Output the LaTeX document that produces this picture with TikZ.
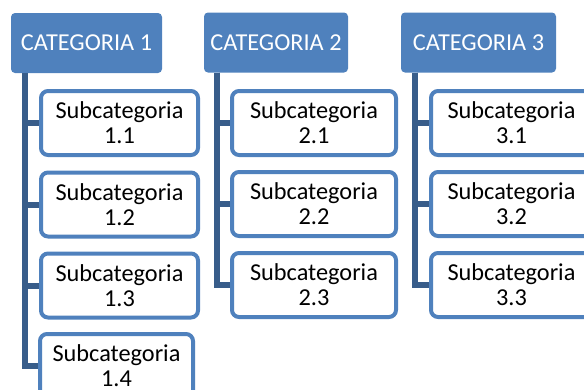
\documentclass[tikz,border=0pt]{standalone}
\usepackage{fontspec}
\setmainfont{Carlito}
\usepackage{tikz}
\usetikzlibrary{positioning,calc}
\definecolor{catblue}{RGB}{79,129,189}
\definecolor{linkblue}{RGB}{56,93,138}

\begin{document}
\begin{tikzpicture}[x=1pt,y=-1pt,
    catbox/.style={fill=catblue,text=white,rounded corners=4pt,minimum width=151pt,minimum height=60pt,inner sep=0pt,font=\fontsize{24.3}{25}\selectfont},
    subbox/.style={draw=catblue,fill=white,line width=4pt,rounded corners=7pt,minimum height=64pt,inner sep=0pt,align=center,font=\fontsize{24.3}{25}\selectfont},
    link/.style={draw=linkblue,line width=6pt}]
      \clip (0,0) rectangle (584,389);
      \node[catbox] (cat1) at (86.5, 43) {CATEGORIA 1};
      \node[catbox,minimum width=144pt] (cat2) at (276, 42.5) {CATEGORIA 2};
      \node[catbox,minimum width=155pt] (cat3) at (478.5, 42.5) {CATEGORIA 3};
      \draw[link] ([xshift=14pt]cat1.south west) |- (119.5, 123) coordinate (l11);
      \draw[link] ([xshift=14pt]cat1.south west) |- (119.5, 204.5) coordinate (l12);
      \draw[link] ([xshift=14pt]cat1.south west) |- (119.5, 285.5) coordinate (l13);
      \draw[link] ([xshift=14pt]cat1.south west) |- (116.5, 366) coordinate (l14);
      \draw[link] ([xshift=13pt]cat2.south west) |- (314, 123) coordinate (l21);
      \draw[link] ([xshift=13pt]cat2.south west) |- (314, 204) coordinate (l22);
      \draw[link] ([xshift=13pt]cat2.south west) |- (314, 285) coordinate (l23);
      \draw[link] ([xshift=14pt]cat3.south west) |- (511.5, 123) coordinate (l31);
      \draw[link] ([xshift=14pt]cat3.south west) |- (511.5, 204) coordinate (l32);
      \draw[link] ([xshift=14pt]cat3.south west) |- (511.5, 285) coordinate (l33);
      \node[subbox,minimum width=157pt] (s11) at (l11) {Subcategoria\\1.1};
      \node[subbox,minimum width=157pt] (s12) at (l12) {Subcategoria\\1.2};
      \node[subbox,minimum width=157pt] (s13) at (l13) {Subcategoria\\1.3};
      \node[subbox,minimum width=153pt] (s14) at (l14) {Subcategoria\\1.4};
      \node[subbox,minimum width=164pt] (s21) at (l21) {Subcategoria\\2.1};
      \node[subbox,minimum width=164pt] (s22) at (l22) {Subcategoria\\2.2};
      \node[subbox,minimum width=164pt] (s23) at (l23) {Subcategoria\\2.3};
      \node[subbox,minimum width=161pt] (s31) at (l31) {Subcategoria\\3.1};
      \node[subbox,minimum width=161pt] (s32) at (l32) {Subcategoria\\3.2};
      \node[subbox,minimum width=161pt] (s33) at (l33) {Subcategoria\\3.3};
    \end{tikzpicture}
\end{document}
